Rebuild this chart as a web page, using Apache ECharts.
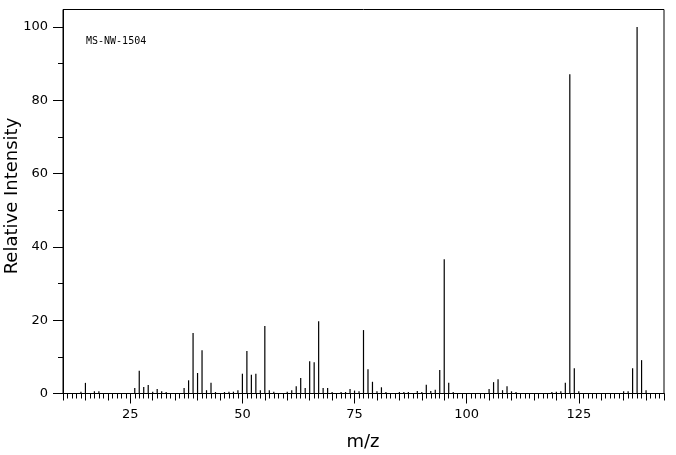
<!DOCTYPE html>
<html>
<head>
<meta charset="utf-8">
<script src="https://cdn.jsdelivr.net/npm/echarts@6/dist/echarts.min.js"></script>
<style>
html,body{margin:0;padding:0;background:#fff;}
#chart{width:676px;height:455px;}
</style>
</head>
<body>
<div id="chart"></div>
<script>
// m/z values and relative intensities
const mzValues = [14,15,17,18,26,27,28,29,30,31,32,33,37,38,39,40,41,42,43,44,46,47,48,49,50,51,52,53,54,55,56,57,60,61,62,63,64,65,66,67,68,69,70,72,73,74,75,76,77,78,79,80,81,82,85,86,87,89,90,91,92,93,94,95,96,97,105,106,107,108,109,110,111,119,120,121,122,123,124,125,135,136,137,138,139,140];
const intensities = [0.5,2.9,0.6,0.6,1.5,6.2,1.8,2.3,0.5,1.2,0.6,0.4,1.5,3.6,16.5,5.6,11.8,0.9,2.9,0.4,0.4,0.5,0.5,0.9,5.4,11.6,5.1,5.4,0.9,18.4,0.9,0.45,0.5,0.9,2.0,4.2,1.5,8.8,8.5,19.7,1.5,1.5,0.4,0.4,0.4,1.2,0.8,0.6,17.3,6.6,3.2,0.6,1.7,0.4,0.4,0.4,0.4,0.7,0.4,2.4,0.7,1.0,6.4,36.6,2.9,0.4,1.2,3.1,3.9,0.9,2.0,0.6,0.4,0.4,0.5,0.6,2.9,87.1,6.9,0.6,0.6,0.6,6.9,100,9.1,0.9];
const xTickLabels = [25,50,75,100,125];
const yTickLabels = [0,20,40,60,80,100];
const yMinorTicks = [10,30,50,70,90];
const xMin = 10, xMax = 144;
const yMin = 0, yMax = 104.75;
const sampleId = 'MS-NW-1504';
const xTitle = 'm/z';
const yTitle = 'Relative Intensity';

const chart = echarts.init(document.getElementById('chart'), null, {renderer: 'canvas'});
const black = '#000';
const labelFont = {color: black, fontFamily: 'DejaVu Sans', fontSize: 13};

const baseX = {
  type: 'value', min: xMin, max: xMax, position: 'bottom', offset: 0,
  splitLine: {show: false}
};
const baseY = {
  type: 'value', min: yMin, max: yMax, position: 'left', offset: 0,
  splitLine: {show: false}
};

chart.setOption({
  animation: false,
  backgroundColor: '#fff',
  grid: {left: 63, right: 12, top: 9.5, bottom: 61.5, show: true, borderColor: black, borderWidth: 1, backgroundColor: 'transparent'},
  xAxis: [
    Object.assign({}, baseX, {
      axisLine: {show: true, lineStyle: {color: black, width: 1}},
      axisTick: {show: true, length: 10, customValues: xTickLabels, lineStyle: {color: black}},
      axisLabel: Object.assign({show: true, margin: 15, customValues: xTickLabels}, labelFont)
    }),
    Object.assign({}, baseX, {
      interval: 5,
      axisLine: {show: false},
      axisTick: {show: true, length: 7, lineStyle: {color: black}},
      axisLabel: {show: false}
    }),
    Object.assign({}, baseX, {
      interval: 1,
      axisLine: {show: false},
      axisTick: {show: true, length: 5, lineStyle: {color: black}},
      axisLabel: {show: false}
    })
  ],
  yAxis: [
    Object.assign({}, baseY, {
      axisLine: {show: true, lineStyle: {color: black, width: 1}},
      axisTick: {show: true, length: 10, customValues: yTickLabels, lineStyle: {color: black}},
      axisLabel: Object.assign({show: true, margin: 15, customValues: yTickLabels}, labelFont)
    }),
    Object.assign({}, baseY, {
      axisLine: {show: false},
      axisTick: {show: true, length: 5, customValues: yMinorTicks, lineStyle: {color: black}},
      axisLabel: {show: false}
    })
  ],
  series: [{
    type: 'bar',
    xAxisIndex: 0,
    yAxisIndex: 0,
    barWidth: 1.2,
    itemStyle: {color: black},
    data: mzValues.map((m, i) => [m, intensities[i]])
  }],
  graphic: [
    {type: 'text', left: 86, top: 36.5, style: {text: sampleId, fill: black, font: '10px "DejaVu Sans Mono"'}},
    {type: 'text', x: 363, y: 442, style: {text: xTitle, fill: black, font: '18px "DejaVu Sans"', align: 'center', verticalAlign: 'middle'}},
    {type: 'text', x: 12, y: 196, rotation: Math.PI / 2, style: {text: yTitle, fill: black, font: '18px "DejaVu Sans"', align: 'center', verticalAlign: 'middle'}}
  ]
});
</script>
</body>
</html>
